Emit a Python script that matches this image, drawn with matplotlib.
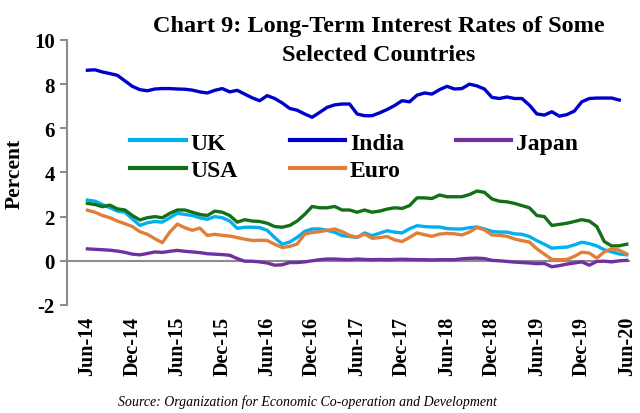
import matplotlib
matplotlib.use("Agg")
import matplotlib.pyplot as plt
import numpy as np

plt.rcParams["axes.unicode_minus"] = False

# monthly data, Jun-14 .. Jun-20
tick_labels = ["Jun-14", "Dec-14", "Jun-15", "Dec-15", "Jun-16", "Dec-16", "Jun-17",
               "Dec-17", "Jun-18", "Dec-18", "Jun-19", "Dec-19", "Jun-20"]

uk = [2.75, 2.7, 2.55, 2.4, 2.25, 2.2, 1.9, 1.6, 1.72, 1.78, 1.75, 1.95, 2.15, 2.1, 2.05,
      1.95, 1.88, 2.0, 1.95, 1.8, 1.47, 1.52, 1.52, 1.5, 1.38, 1.05, 0.75, 0.85, 1.06, 1.33,
      1.44, 1.44, 1.38, 1.29, 1.14, 1.1, 1.06, 1.26, 1.14, 1.25, 1.36, 1.3, 1.26, 1.45, 1.59,
      1.55, 1.53, 1.53, 1.46, 1.44, 1.44, 1.5, 1.53, 1.44, 1.33, 1.3, 1.3, 1.22, 1.2, 1.1,
      0.91, 0.75, 0.57, 0.6, 0.62, 0.72, 0.84, 0.78, 0.67, 0.5, 0.4, 0.31, 0.27]

usa = [2.6, 2.55, 2.45, 2.52, 2.35, 2.3, 2.05, 1.85, 1.95, 2.0, 1.95, 2.15, 2.3, 2.3, 2.2,
       2.1, 2.05, 2.25, 2.2, 2.05, 1.75, 1.86, 1.8, 1.78, 1.7, 1.55, 1.52, 1.6, 1.8, 2.1,
       2.46, 2.4, 2.4, 2.46, 2.3, 2.3, 2.2, 2.3, 2.2, 2.25, 2.34, 2.4, 2.37, 2.5, 2.85,
       2.85, 2.82, 2.98, 2.9, 2.9, 2.9, 3.0, 3.16, 3.1, 2.8, 2.7, 2.67, 2.6, 2.5, 2.4,
       2.05, 2.0, 1.6, 1.65, 1.7, 1.78, 1.86, 1.8, 1.55, 0.87, 0.67, 0.68, 0.75]

euro = [2.29, 2.2, 2.05, 1.95, 1.8, 1.68, 1.55, 1.32, 1.2, 1.0, 0.82, 1.3, 1.66, 1.5, 1.38,
        1.48, 1.15, 1.2, 1.15, 1.12, 1.05, 0.98, 0.92, 0.93, 0.92, 0.75, 0.6, 0.65, 0.76, 1.21,
        1.28, 1.32, 1.38, 1.44, 1.32, 1.15, 1.06, 1.21, 1.02, 1.05, 1.1, 0.95, 0.87, 1.06, 1.26,
        1.18, 1.11, 1.21, 1.24, 1.22, 1.17, 1.3, 1.51, 1.4, 1.17, 1.15, 1.11, 0.99, 0.91, 0.85,
        0.54, 0.3, 0.06, 0.05, 0.06, 0.2, 0.39, 0.35, 0.12, 0.4, 0.55, 0.48, 0.31]

japan = [0.54, 0.52, 0.5, 0.48, 0.44, 0.38, 0.3, 0.27, 0.33, 0.4, 0.38, 0.43, 0.47, 0.43, 0.4,
         0.37, 0.32, 0.3, 0.28, 0.25, 0.1, -0.02, -0.02, -0.05, -0.1, -0.2, -0.18, -0.08, -0.08, -0.05,
         0.0, 0.05, 0.08, 0.08, 0.06, 0.05, 0.08, 0.06, 0.05, 0.06, 0.05, 0.06, 0.07, 0.06, 0.05,
         0.05, 0.04, 0.05, 0.05, 0.05, 0.09, 0.11, 0.12, 0.1, 0.02, 0.0, -0.03, -0.06, -0.08, -0.1,
         -0.13, -0.12, -0.27, -0.22, -0.15, -0.1, -0.05, -0.2, -0.03, -0.02, -0.05, 0.0, 0.02]

# India has no Jun-20 value
india = [8.63, 8.65, 8.55, 8.48, 8.4, 8.15, 7.9, 7.75, 7.7, 7.78, 7.8, 7.8, 7.78, 7.77, 7.73,
         7.65, 7.6, 7.72, 7.8, 7.65, 7.72, 7.55, 7.38, 7.25, 7.48, 7.35, 7.15, 6.9, 6.82, 6.65,
         6.5, 6.72, 6.95, 7.06, 7.1, 7.1, 6.65, 6.57, 6.57, 6.7, 6.85, 7.03, 7.25, 7.2, 7.5,
         7.6, 7.55, 7.75, 7.9, 7.78, 7.8, 8.0, 7.92, 7.78, 7.4, 7.35, 7.42, 7.35, 7.35, 7.05,
         6.65, 6.6, 6.75, 6.55, 6.62, 6.78, 7.2, 7.35, 7.37, 7.37, 7.37, 7.28]

x = np.arange(len(uk))
xi = np.arange(len(india))

serif = "Liberation Serif"
fig = plt.figure(figsize=(6.4, 4.14), dpi=100)
ax = fig.add_axes([0.105, 0.261, 0.879, 0.640])

ax.axhline(0, color="#8c8c8c", lw=1.5, zorder=1)
lw = 2.4
l_uk, = ax.plot(x, uk, color="#00b0f0", lw=lw)
l_india, = ax.plot(xi, india, color="#0000cc", lw=lw)
l_japan, = ax.plot(x, japan, color="#7030a0", lw=lw)
l_usa, = ax.plot(x, usa, color="#137018", lw=lw)
l_euro, = ax.plot(x, euro, color="#e07e3a", lw=lw)

ax.set_ylim(-2, 10)
ax.set_xlim(-2.7, 72.4)
ax.set_yticks(range(-2, 11, 2))
ax.set_xticks(range(0, 73, 6))
ax.set_xticklabels(tick_labels, rotation=90, fontfamily=serif, fontweight="bold", fontsize=14.5)
for t in ax.get_yticklabels():
    t.set_fontfamily(serif)
    t.set_fontweight("bold")
    t.set_fontsize(15)
ax.tick_params(axis="x", length=0, pad=8)
ax.tick_params(axis="y", length=5, color="#8c8c8c", width=1.5, pad=4)

for s in ["top", "right", "bottom"]:
    ax.spines[s].set_visible(False)
ax.spines["left"].set_color("#8c8c8c")
ax.spines["left"].set_linewidth(1.5)

ax.set_ylabel("Percent", fontfamily=serif, fontweight="bold", fontsize=15.5, labelpad=7)

leg = ax.legend([l_uk, l_usa, l_india, l_euro, l_japan], ["UK", "USA", "India", "Euro", "Japan"],
                ncol=3, loc="center left", bbox_to_anchor=(0.112, 0.56), frameon=False,
                prop={"family": serif, "weight": "bold", "size": 17},
                handlelength=2.35, columnspacing=2.2, handletextpad=0.2, labelspacing=0.24,
                borderpad=0, borderaxespad=0)
for h in leg.get_lines():
    h.set_linewidth(3)

fig.text(0.592, 0.937, "Chart 9: Long-Term Interest Rates of Some", ha="center", va="center",
         fontfamily=serif, fontweight="bold", fontsize=17.5)
fig.text(0.592, 0.867, "Selected Countries", ha="center", va="center",
         fontfamily=serif, fontweight="bold", fontsize=17.5)
fig.text(0.185, 0.028, "Source: Organization for Economic Co-operation and Development",
         ha="left", va="center", fontfamily=serif, fontstyle="italic", fontsize=10)

fig.savefig("out.png", dpi=100)
